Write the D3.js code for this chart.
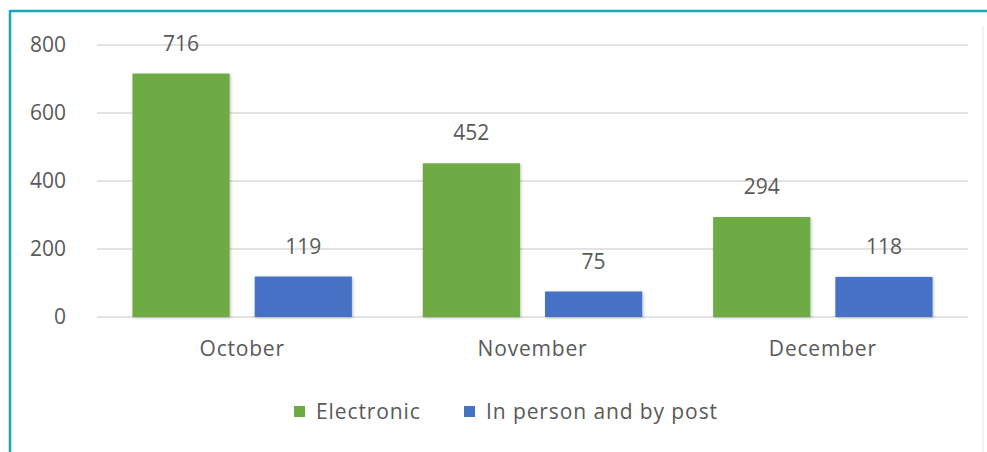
<!DOCTYPE html>
<html>
<head>
<meta charset="utf-8">
<script src="https://cdn.jsdelivr.net/npm/d3@7"></script>
<style>
  body { margin: 0; background: #fff; }
  svg { display: block; }
  text { font-family: "Open Sans", sans-serif; fill: #595959; }
</style>
</head>
<body>
<svg id="chart" width="987" height="452"></svg>
<script>
const months = ["October", "November", "December"];
const seriesNames = ["Electronic", "In person and by post"];
const electronic = [716, 452, 294];
const inPerson = [119, 75, 118];
const yTicks = [0, 200, 400, 600, 800];
const colours = ["#6eab44", "#4472c4"];

const W = 987, H = 452;
const margin = {top: 45, right: 19, bottom: 135, left: 97};

let svg = d3.select('#chart');

// frame
svg.append('rect').attr('x', 0).attr('y', 0).attr('width', W).attr('height', H).attr('fill', '#fff');
svg.append('line').attr('x1', 10).attr('x2', W).attr('y1', 11).attr('y2', 11)
  .attr('stroke', '#14a8b8').attr('stroke-width', 2.5);
svg.append('line').attr('x1', 10).attr('x2', 10).attr('y1', 10).attr('y2', H)
  .attr('stroke', '#14a8b8').attr('stroke-width', 2.5);
svg.append('line').attr('x1', 983).attr('x2', 983).attr('y1', 26).attr('y2', H)
  .attr('stroke', '#e6e6e6').attr('stroke-width', 1);

let defs = svg.append('defs');
let f = defs.append('filter').attr('id', 'shadow').attr('x', '-10%').attr('y', '-10%').attr('width', '130%').attr('height', '130%');
f.append('feDropShadow').attr('dx', 1).attr('dy', 1).attr('stdDeviation', 1.5).attr('flood-color', '#000').attr('flood-opacity', 0.25);

const x0 = d3.scaleBand().domain(months).range([margin.left, W - margin.right]).paddingInner(0).paddingOuter(0);
const x1 = d3.scaleBand().domain(seriesNames).range([0, x0.bandwidth()]).paddingInner(0.205).paddingOuter(0.29);
const y = d3.scaleLinear().domain([0, 800]).range([H - margin.bottom, margin.top]);

// gridlines
svg.append('g').selectAll('line').data(yTicks).join('line')
  .attr('x1', margin.left).attr('x2', W - margin.right)
  .attr('y1', d => y(d)).attr('y2', d => y(d))
  .attr('stroke', '#d9d9d9').attr('stroke-width', 1.3);

// y axis labels
let yAxis = svg.append('g').attr('transform', `translate(66,0)`)
  .call(d3.axisLeft(y).tickValues(yTicks).tickSize(0).tickPadding(0));
yAxis.select('.domain').remove();
yAxis.selectAll('text').style('font-size', '21px').attr('fill', '#595959')
  .style('font-family', '"Open Sans", sans-serif');

// x axis labels
let xAxis = svg.append('g').attr('transform', `translate(0,${y(0)})`)
  .call(d3.axisBottom(x0).tickSize(0).tickPadding(24));
xAxis.select('.domain').remove();
xAxis.selectAll('text').style('font-size', '21px').style('letter-spacing', '0.8px').attr('fill', '#595959')
  .style('font-family', '"Open Sans", sans-serif');

const rows = months.map((m, i) => ({month: m, values: [electronic[i], inPerson[i]]}));

let groups = svg.append('g').selectAll('g').data(rows).join('g')
  .attr('transform', d => `translate(${x0(d.month)},0)`);

groups.selectAll('rect').data(d => d.values.map((v, j) => ({name: seriesNames[j], v: v, j: j})))
  .join('rect')
  .attr('x', d => x1(d.name))
  .attr('y', d => y(d.v))
  .attr('width', x1.bandwidth())
  .attr('height', d => y(0) - y(d.v))
  .attr('fill', d => colours[d.j])
  .attr('filter', 'url(#shadow)');

groups.selectAll('text.val').data(d => d.values.map((v, j) => ({name: seriesNames[j], v: v})))
  .join('text').attr('class', 'val')
  .attr('x', d => x1(d.name) + x1.bandwidth() / 2)
  .attr('y', d => y(d.v) - 23)
  .attr('text-anchor', 'middle')
  .style('font-size', '21px')
  .text(d => d.v);

// legend
let legend = svg.append('g').attr('transform', 'translate(294,412)');
let lx = [0, 170];
seriesNames.forEach((s, i) => {
  let g = legend.append('g').attr('transform', `translate(${lx[i]},0)`);
  g.append('rect').attr('x', 0).attr('y', -6).attr('width', 11).attr('height', 11).attr('fill', colours[i]);
  g.append('text').attr('x', 22).attr('y', 7).style('font-size', '21px').style('letter-spacing', '0.9px').text(s);
});
</script>
</body>
</html>
